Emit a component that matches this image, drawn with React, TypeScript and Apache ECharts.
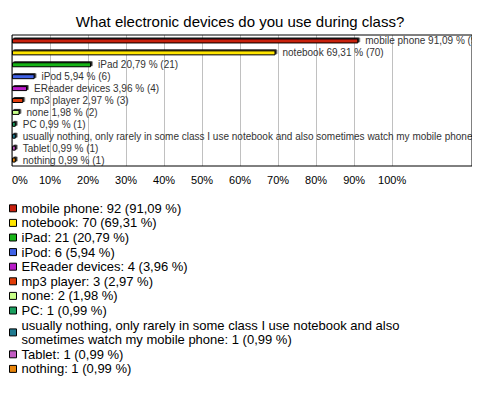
import React, { useEffect, useRef } from "react";
import * as echarts from "echarts";

const categories = [
  "mobile phone",
  "notebook",
  "iPad",
  "iPod",
  "EReader devices",
  "mp3 player",
  "none",
  "PC",
  "usually nothing, only rarely in some class I use notebook and also sometimes watch my mobile phone",
  "Tablet",
  "nothing",
];
const counts = [92, 70, 21, 6, 4, 3, 2, 1, 1, 1, 1];
const percents = [91.09, 69.31, 20.79, 5.94, 3.96, 2.97, 1.98, 0.99, 0.99, 0.99, 0.99];
const colors = [
  "#C8200E",
  "#FFE500",
  "#18B418",
  "#3F62E6",
  "#B81CC8",
  "#E03C08",
  "#C8FF88",
  "#199E5E",
  "#1F7A90",
  "#C25CC2",
  "#E8840A",
];
const titleText = "What electronic devices do you use during class?";
const axisMin = 0;
const axisMax = 121;
const axisStep = 10;
const labelMax = 100;

const FONT = "Liberation Sans, Arial, sans-serif";

const fmtPct = (v: number) => v.toFixed(2).replace(".", ",");

function wrap(text: string, max: number): string {
  if (text.length <= max) return text;
  const cut = text.lastIndexOf(" ", max);
  return text.slice(0, cut) + "\n" + text.slice(cut + 1);
}

export default function App() {
  const ref = useRef<HTMLDivElement>(null);
  useEffect(() => {
    if (!ref.current) return;
    const chart = echarts.init(ref.current, null, { renderer: "svg" });
    const series = categories.map((name, i) => ({
      name,
      type: "bar",
      stack: "all",
      barWidth: 5,
      xAxisIndex: 0,
      yAxisIndex: 0,
      itemStyle: {
        color: colors[i],
        borderColor: "#000",
        borderWidth: 1,
        shadowColor: "rgba(0,0,0,0.85)",
        shadowBlur: 0,
        shadowOffsetX: 1.5,
        shadowOffsetY: -1,
      },
      label: {
        show: true,
        position: "right",
        distance: 7,
        fontSize: 10,
        fontFamily: FONT,
        color: "#333",
        formatter: () => `${name} ${fmtPct(percents[i])} % (${counts[i]})`,
      },
      data: categories.map((_, j) => (j === i ? percents[i] : "-")),
    }));
    // split line colours: grey up to 100 %, hidden beyond
    const tickCount = Math.floor(axisMax / axisStep) + 2;
    const splitColors: string[] = [];
    for (let k = 0; k < tickCount; k++) {
      splitColors.push(k * axisStep <= labelMax ? "#c0c0c0" : "rgba(0,0,0,0)");
    }
    chart.setOption({
      animation: false,
      backgroundColor: "#fff",
      title: {
        text: titleText,
        left: "center",
        top: 9,
        textStyle: { fontSize: 15, fontWeight: "normal", color: "#000", fontFamily: FONT },
      },
      grid: [
        {
          left: 12,
          right: 8,
          top: 35,
          bottom: 241,
          containLabel: false,
          show: true,
          borderColor: "#000",
          borderWidth: 1,
          backgroundColor: "transparent",
          z: 5,
        },
        {
          // outer frame of the whole picture
          left: 1,
          top: 1,
          right: 2,
          bottom: 2,
          containLabel: false,
          show: true,
          borderColor: "#000",
          borderWidth: 1.5,
          backgroundColor: "transparent",
          z: 5,
        },
      ],
      xAxis: [
        {
          type: "value",
          gridIndex: 0,
          min: axisMin,
          max: axisMax,
          interval: axisStep,
          axisLine: { show: false },
          axisTick: { show: false },
          splitLine: { show: true, showMaxLine: false, lineStyle: { color: splitColors, width: 1 } },
          axisLabel: {
            fontSize: 11,
            color: "#000",
            fontFamily: FONT,
            margin: 8,
            alignMinLabel: "left",
            showMaxLabel: false,
            formatter: (v: number) => (v <= labelMax ? `${v}%` : ""),
          },
        },
        { type: "value", gridIndex: 1, show: false, min: 0, max: 1 },
      ],
      yAxis: [
        {
          type: "category",
          gridIndex: 0,
          inverse: true,
          data: categories,
          axisLine: { show: false },
          axisTick: { show: false },
          axisLabel: { show: false },
          splitLine: { show: false },
        },
        { type: "value", gridIndex: 1, show: false, min: 0, max: 1 },
      ],
      legend: {
        orient: "vertical",
        left: 9,
        top: 201,
        padding: 0,
        itemWidth: 7,
        itemHeight: 7,
        itemGap: 0,
        icon: "rect",
        itemStyle: { borderColor: "#000", borderWidth: 1 },
        textStyle: { fontSize: 13, color: "#000", fontFamily: FONT, lineHeight: 14.6 },
        formatter: (name: string) => {
          const i = categories.indexOf(name);
          return wrap(`${name}: ${counts[i]} (${fmtPct(percents[i])} %)`, 66);
        },
        data: categories,
      },
      series,
    });
    return () => chart.dispose();
  }, []);
  return <div ref={ref} style={{ width: 480, height: 407, margin: -8 }} />;
}
